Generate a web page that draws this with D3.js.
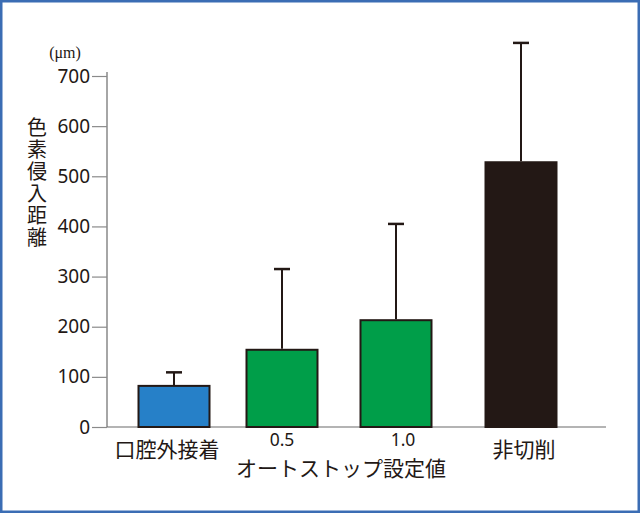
<!DOCTYPE html>
<html><head><meta charset="utf-8">
<script src="https://cdn.jsdelivr.net/npm/d3@7"></script>
<style>
html,body{margin:0;padding:0;background:#fff;}
svg{display:block;}
</style></head>
<body>
<script>
const categories = ["口腔外接着", "0.5", "1.0", "非切削"];
const means = [82, 154, 213, 528];
const errors = [27, 161, 192, 238];
const barColors = ["#2680c8", "#009e49", "#009e49", "#231815"];
const yTicks = [0, 100, 200, 300, 400, 500, 600, 700];
const yTitle = "色素侵入距離";
const unitLabel = "(μm)";
const groupLabel = "オートストップ設定値";

const W = 640, H = 513;
const svg = d3.select("body").append("svg").attr("width", W).attr("height", H);

svg.append("rect").attr("x", 1).attr("y", 1).attr("width", W - 2).attr("height", H - 2)
  .attr("fill", "#fff").attr("stroke", "#3b6db4").attr("stroke-width", 3);

const y = d3.scaleLinear().domain([0, 700]).range([427, 76]);
const x = d3.scaleOrdinal().domain(categories).range([174, 282, 396, 521]);
const barW = 71;
const font = "'Noto Sans CJK JP', 'Noto Sans', sans-serif";

// y axis
const yAxis = d3.axisLeft(y).tickValues(yTicks).tickSize(15).tickPadding(2).tickFormat(d3.format("d"));
const gy = svg.append("g").attr("transform", "translate(107,0)").call(yAxis);
gy.select(".domain").attr("stroke", "#6b6b6b").attr("stroke-width", 1.2).attr("d", `M0,${y(0)}V${y(700)-4}`);
gy.selectAll(".tick line").attr("stroke", "#8a8a8a").attr("stroke-width", 1.2);
gy.selectAll(".tick text").attr("font-family", "'Noto Sans', sans-serif").attr("font-size", 19).attr("fill", "#231815");

// x axis line
svg.append("line").attr("x1", 107).attr("x2", 606).attr("y1", y(0)).attr("y2", y(0))
  .attr("stroke", "#6b6b6b").attr("stroke-width", 1.2);

// bars
svg.selectAll("rect.bar").data(categories).enter().append("rect").attr("class", "bar")
  .attr("x", d => x(d) - barW / 2)
  .attr("y", (d, i) => y(means[i]))
  .attr("width", barW)
  .attr("height", (d, i) => y(0) - y(means[i]))
  .attr("fill", (d, i) => barColors[i])
  .attr("stroke", "#231815").attr("stroke-width", 2);

// error bars
const eg = svg.selectAll("g.err").data(categories).enter().append("g").attr("class", "err");
eg.append("line")
  .attr("x1", d => x(d)).attr("x2", d => x(d))
  .attr("y1", (d, i) => y(means[i]) - 1)
  .attr("y2", (d, i) => y(means[i] + errors[i]))
  .attr("stroke", "#231815").attr("stroke-width", 2);
eg.append("line")
  .attr("x1", d => x(d) - 8).attr("x2", d => x(d) + 8)
  .attr("y1", (d, i) => y(means[i] + errors[i]))
  .attr("y2", (d, i) => y(means[i] + errors[i]))
  .attr("stroke", "#231815").attr("stroke-width", 2.5);

// x labels
const labelDx = [-7, 0, 7, 3];
svg.selectAll("text.xl").data(categories).enter().append("text").attr("class", "xl")
  .attr("x", (d, i) => x(d) + labelDx[i])
  .attr("y", (d, i) => i === 1 || i === 2 ? 446 : 457)
  .attr("text-anchor", "middle")
  .attr("font-family", (d, i) => i === 1 || i === 2 ? "'Noto Sans', sans-serif" : font)
  .attr("font-size", (d, i) => i === 1 || i === 2 ? 17.5 : 21)
  .attr("fill", "#231815")
  .text(d => d);

svg.append("text").attr("x", 341).attr("y", 476).attr("text-anchor", "middle")
  .attr("font-family", font).attr("font-size", 21).attr("fill", "#231815").text(groupLabel);

// y title (vertical)
svg.append("text")
  .attr("x", 37).attr("y", 117)
  .style("writing-mode", "vertical-rl")
  .attr("letter-spacing", 2)
  .attr("font-family", font).attr("font-size", 20).attr("fill", "#231815")
  .text(yTitle);

svg.append("text").attr("x", 65).attr("y", 58).attr("text-anchor", "middle")
  .attr("font-family", "'Liberation Serif', 'DejaVu Serif', serif").attr("font-size", 16)
  .attr("fill", "#231815").text(unitLabel);
</script>
</body></html>
